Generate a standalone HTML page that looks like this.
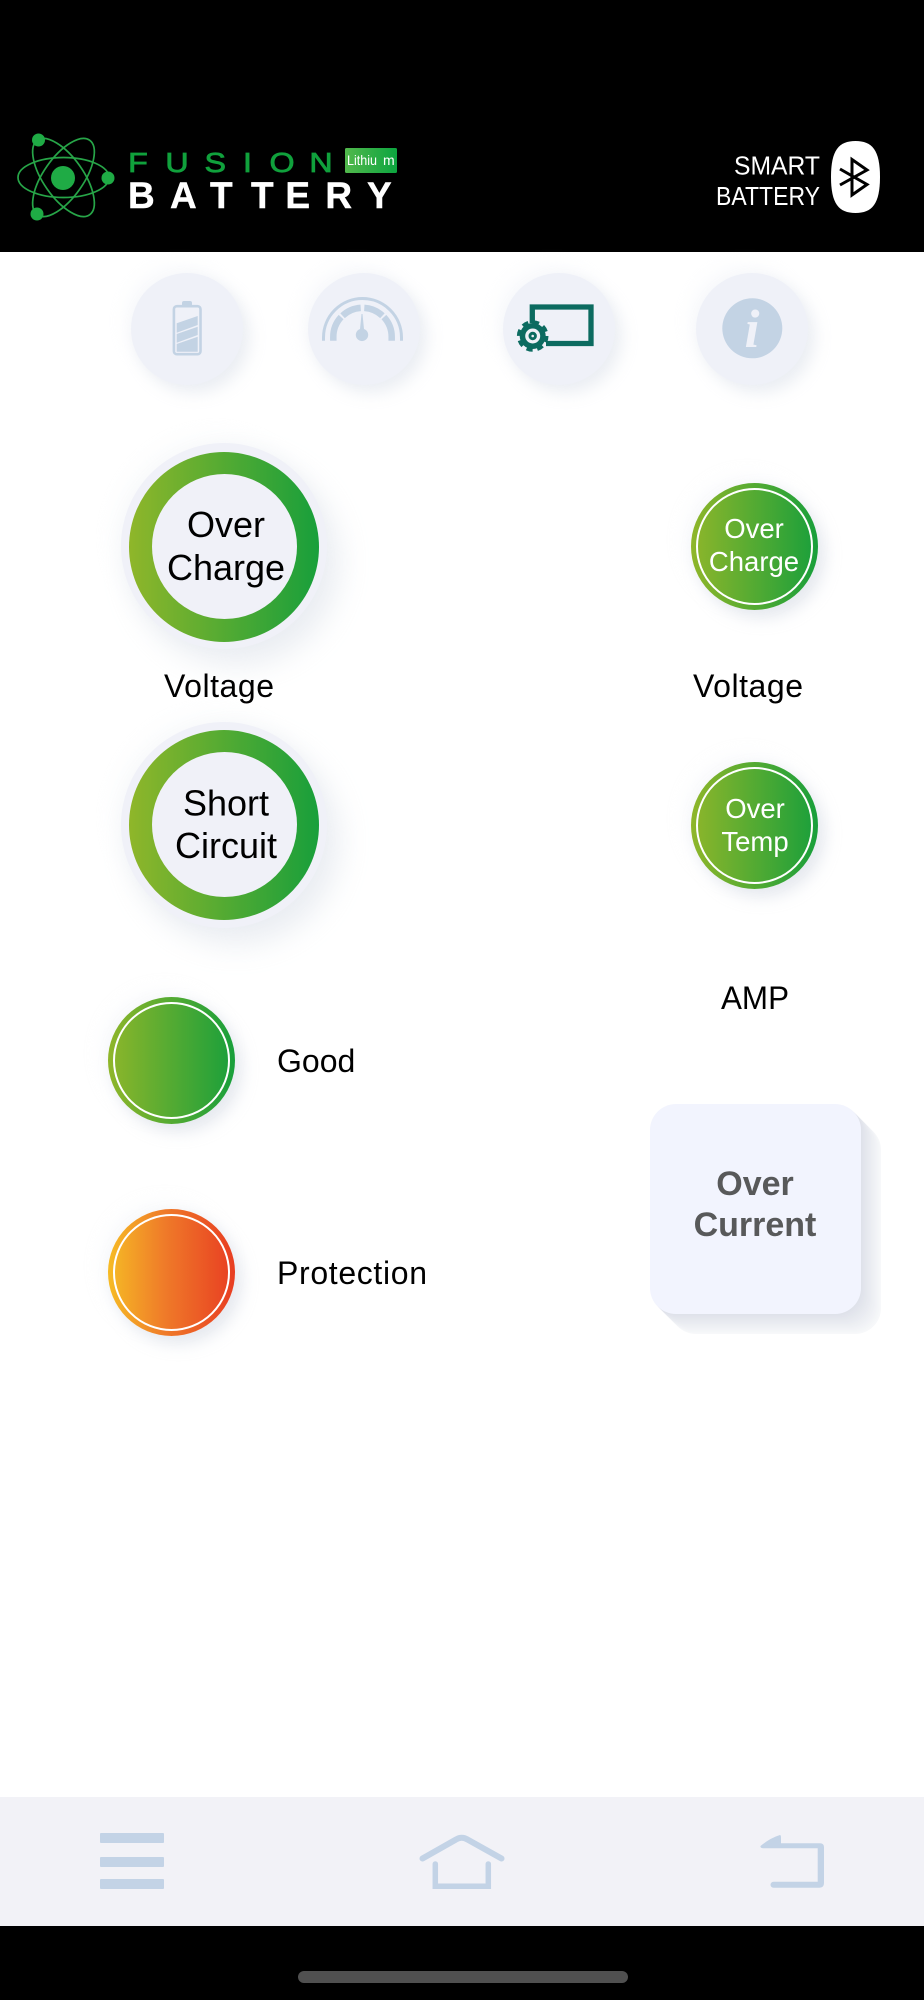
<!DOCTYPE html>
<html><head><meta charset="utf-8"><style>
html,body{margin:0;padding:0;background:#fff}
#p{position:relative;width:924px;height:2000px;overflow:hidden;background:#fff;font-family:"Liberation Sans",sans-serif}
.d{position:absolute;border-radius:50%}
.top{width:112px;height:112px;top:273px;background:#eff1f8;box-shadow:7px 8px 16px rgba(190,198,215,.3),-7px -8px 16px rgba(236,239,246,.3)}
.big{left:121px;width:206px;height:206px;background:#f0f1f8;box-shadow:12px 16px 30px rgba(190,198,215,.32),-8px -8px 20px rgba(236,239,246,.28)}
.sm{width:127px;height:127px;box-shadow:7px 8px 16px rgba(185,193,212,.36),-7px -7px 16px rgba(236,239,246,.34)}
.g{background:linear-gradient(90deg,#8fb62a,#189f3b)}
.o{background:linear-gradient(90deg,#f6bb25,#ef7a29 45%,#e83d22)}
#s{position:absolute;left:0;top:0}
</style></head><body><div id="p">
<div style="position:absolute;left:0;top:0;width:924px;height:252px;background:#000"></div>
<div class="d top" style="left:131px"></div>
<div class="d top" style="left:308px"></div>
<div class="d top" style="left:503px"></div>
<div class="d top" style="left:696px"></div>
<div class="d big" style="top:443px"></div>
<div class="d big" style="top:722px"></div>
<div class="d g" style="left:129px;top:452px;width:190px;height:190px"></div>
<div class="d g" style="left:129px;top:730px;width:190px;height:190px"></div>
<div class="d" style="left:152px;top:474px;width:145px;height:145px;background:#f0f1f8"></div>
<div class="d" style="left:152px;top:752px;width:145px;height:145px;background:#f0f1f8"></div>
<div class="d sm g" style="left:691px;top:483px"></div>
<div class="d sm g" style="left:691px;top:762px"></div>
<div class="d sm g" style="left:108px;top:997px"></div>
<div class="d sm o" style="left:108px;top:1209px"></div>
<div style="position:absolute;left:650px;top:1104px;width:211px;height:210px;border-radius:26px;background:#f2f4fe;box-shadow:1px 1px 0 rgb(223,226,234),2px 2px 0 rgb(224,227,235),3px 3px 0 rgb(226,228,236),4px 4px 0 rgb(227,229,237),5px 5px 0 rgb(228,231,237),6px 6px 0 rgb(229,232,238),7px 7px 0 rgb(231,233,239),8px 8px 0 rgb(232,234,240),9px 9px 0 rgb(233,235,241),10px 10px 0 rgb(234,236,242),11px 11px 0 rgb(236,238,242),12px 12px 0 rgb(237,239,243),13px 13px 0 rgb(238,240,244),14px 14px 0 rgb(239,241,245),15px 15px 0 rgb(241,242,246),16px 16px 0 rgb(242,243,247),17px 17px 0 rgb(243,245,247),18px 18px 0 rgb(244,246,248),19px 19px 0 rgb(246,247,249),20px 20px 0 rgb(247,248,250)"></div>
<div style="position:absolute;left:0;top:1797px;width:924px;height:129px;background:#f2f2f7"></div>
<div style="position:absolute;left:0;top:1926px;width:924px;height:74px;background:#000"></div>
<div style="position:absolute;left:298px;top:1971px;width:330px;height:12px;border-radius:6px;background:#505050"></div>
<svg id="s" width="924" height="2000" viewBox="0 0 924 2000" xmlns="http://www.w3.org/2000/svg">
<defs><linearGradient id="lb" x1="0" x2="1"><stop offset="0" stop-color="#52b84c"/><stop offset="1" stop-color="#0ca53f"/></linearGradient></defs>
<!-- atom -->
<g fill="none" stroke="#27a548" stroke-width="1.7">
<ellipse cx="63.500" cy="177.500" rx="45.500" ry="20"/>
<ellipse cx="63.500" cy="177.500" rx="45.500" ry="20" transform="rotate(55 63.500 177.500)"/>
<ellipse cx="63.500" cy="177.500" rx="45.500" ry="20" transform="rotate(-55 63.500 177.500)"/>
</g>
<g fill="#1fab45"><circle cx="63" cy="178" r="12"/><circle cx="38.500" cy="140" r="6.500"/><circle cx="108" cy="178" r="6.500"/><circle cx="37" cy="214" r="6.500"/></g>
<!-- logo text -->
<g transform="scale(1.15 1)"><text y="172" x="111.400 143.800 177.800 211.300 234.300 269" font-size="28" fill="#10a13c" stroke="#10a13c" stroke-width=".8" font-family="'Liberation Sans',sans-serif">FUSION</text></g>
<text y="208" x="128 170 210 251 285.400 325.400 367" font-size="37" font-weight="bold" fill="#fff" stroke="#fff" stroke-width=".4" font-family="'Liberation Sans',sans-serif">BATTERY</text>
<rect x="345" y="148" width="52" height="25" rx="1.500" fill="url(#lb)"/>
<text y="165" font-size="14" fill="#fff" font-family="'Liberation Sans',sans-serif"><tspan x="347" textLength="30" lengthAdjust="spacingAndGlyphs">Lithiu</tspan> <tspan x="383">m</tspan></text>
<!-- smart battery -->
<text x="734" y="174.300" font-size="26" fill="#fff" textLength="86" lengthAdjust="spacingAndGlyphs" font-family="'Liberation Sans',sans-serif">SMART</text>
<text x="716" y="205" font-size="26" fill="#fff" textLength="104" lengthAdjust="spacingAndGlyphs" font-family="'Liberation Sans',sans-serif">BATTERY</text>
<path d="M855.500 141 C872 141 880 150 880 177 C880 204 872 213 855.500 213 C839 213 831 204 831 177 C831 150 839 141 855.500 141Z" fill="#fff"/>
<path d="M840 169 L867 184.500 L852 195 V159.500 L867 170 L840 185" fill="none" stroke="#000" stroke-width="3"/>
<!-- battery icon -->
<g fill="#c3d3e4">
<path d="M182 305 V303 Q182 301 184 301 H190 Q192 301 192 303 V305Z"/>
<path d="M176.700 323.300 L197.700 316 V325 L176.700 332.700Z M176.700 334 L197.700 326.700 V335 L176.700 342.700Z M176.700 344 L197.700 336.700 V351.700 H176.700Z"/>
</g>
<rect x="173.900" y="306.200" width="26.600" height="48" rx="3" fill="none" stroke="#c3d3e4" stroke-width="2.600"/>
<!-- gauge icon -->
<g fill="none" stroke="#c3d3e4">
<path d="M323.500 340.700 V337.500 A39 39 0 0 1 401.500 337.500 V340.700" stroke-width="3"/>
<g stroke-width="6.500">
<path d="M333.300 340.700 V337 A29.200 29.200 0 0 1 341.100 317.100"/>
<path d="M342.600 315.700 A29.200 29.200 0 0 1 360.700 307.900"/>
<path d="M364.300 307.900 A29.200 29.200 0 0 1 382.400 315.700"/>
<path d="M383.900 317.100 A29.200 29.200 0 0 1 391.700 337 V340.700"/>
</g>
</g>
<path d="M361.500 314 H362.500 L364 329 A6.200 6.200 0 1 1 360 329 Z" fill="#c3d3e4"/>
<!-- settings icon -->
<g fill="none" stroke="#0c6b60">
<path d="M532.300 323 V307 H591 V343.500 H546" stroke-width="5.300"/>
<circle cx="532.700" cy="336" r="13.500" stroke-width="4.600" stroke-dasharray="6 4.600"/>
</g>
<circle cx="532.700" cy="336" r="13" fill="#0c6b60"/>
<circle cx="532.700" cy="336" r="7.500" fill="#eff1f8"/>
<circle cx="532.700" cy="336" r="4.200" fill="#0c6b60"/>
<circle cx="532.700" cy="336" r="1.300" fill="#eff1f8"/>
<!-- info -->
<circle cx="752.300" cy="328.300" r="30" fill="#c3d3e4"/>
<text x="752" y="347" text-anchor="middle" font-size="54" font-weight="bold" font-style="italic" fill="#eff1f8" font-family="'Liberation Serif',serif">i</text>
<!-- labels -->
<g font-family="'Liberation Sans',sans-serif" fill="#000" font-size="32">
<g font-size="36" text-anchor="middle">
<text x="226" y="537">Over</text><text x="226" y="580">Charge</text>
<text x="226" y="815.500">Short</text><text x="226" y="858">Circuit</text>
</g>
<text x="164" y="697" textLength="110">Voltage</text>
<text x="693" y="697" textLength="110">Voltage</text>
<text x="721" y="1009" textLength="68" lengthAdjust="spacingAndGlyphs">AMP</text>
<text x="277" y="1072">Good</text>
<text x="277" y="1284" textLength="150">Protection</text>
</g>
<g font-family="'Liberation Sans',sans-serif" fill="#fff" font-size="27.500" text-anchor="middle">
<text x="754" y="538">Over</text><text x="754" y="571">Charge</text>
<text x="755" y="818">Over</text><text x="755" y="851">Temp</text>
</g>
<g fill="none" stroke="#fff" stroke-width="2">
<circle cx="754.500" cy="546.500" r="57.500"/><circle cx="754.500" cy="825.500" r="57.500"/>
<circle cx="171.500" cy="1060.500" r="57.500"/><circle cx="171.500" cy="1272.500" r="57.500"/>
</g>
<g font-family="'Liberation Sans',sans-serif" font-weight="bold" fill="#58595a" font-size="34" text-anchor="middle">
<text x="755" y="1195">Over</text><text x="755" y="1236">Current</text>
</g>
<!-- footer icons -->
<g fill="#c3d3e6">
<rect x="100" y="1833" width="64" height="10" rx="1"/><rect x="100" y="1857" width="64" height="10" rx="1"/><rect x="100" y="1879" width="64" height="10" rx="1"/>
<path d="M760.500 1846 Q770 1838 780 1835 Q781 1835 781 1838 V1843.300 H820 Q824 1843.300 824 1847.300 V1883 Q824 1887.700 819.500 1887.700 H773.500 A3 3 0 0 1 773.500 1881.700 H817.700 V1848.300 H763 Q760 1848 760.500 1846Z"/>
</g>
<g fill="none" stroke="#c3d3e6">
<path d="M422.500 1858.500 L456 1839.500 Q461.700 1836 467.500 1839.500 L501.500 1858.500" stroke-width="6" stroke-linecap="round"/>
<path d="M435.300 1864 V1886.200 H488.300 V1864" stroke-width="5.500" stroke-linecap="round"/>
</g>
</svg>
</div></body></html>
